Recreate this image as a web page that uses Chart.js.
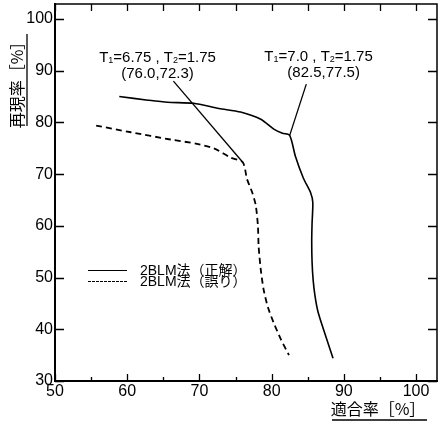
<!DOCTYPE html>
<html>
<head>
<meta charset="utf-8">
<script src="https://cdn.jsdelivr.net/npm/chart.js@4/dist/chart.umd.min.js"></script>
<style>
  html, body { margin: 0; padding: 0; background: #fff; }
  #wrap { width: 438px; height: 424px; }
</style>
</head>
<body>
<div id="wrap"><canvas id="chart" width="438" height="424"></canvas></div>
<script>
// Tick labels
const xTicks = [50, 60, 70, 80, 90, 100];
const yTicks = [30, 40, 50, 60, 70, 80, 90, 100];

// 2BLM法（正解） - solid curve
const correctX = [58.9, 62.9, 65.6, 69.2, 72.7, 75.7, 78.5, 80.3, 81.5, 82.5, 83.3, 84.4, 85.4, 85.7, 85.6, 85.55, 85.6, 85.75, 86.0, 86.4, 87.2, 88.5];
const correctY = [85.0, 84.3, 83.9, 83.7, 82.7, 82.0, 80.6, 78.7, 77.9, 77.5, 73.4, 69.2, 66.4, 64.5, 60.5, 57.0, 53.0, 49.5, 46.5, 43.5, 39.9, 34.4];

// 2BLM法（誤り） - dashed curve
const wrongX = [55.7, 60.5, 66.0, 69.5, 72.0, 74.3, 76.0, 76.6, 77.3, 77.8, 78.1, 78.2, 78.5, 78.9, 79.5, 80.3, 81.3, 82.4];
const wrongY = [79.4, 78.1, 76.7, 75.9, 75.0, 73.2, 72.3, 69.0, 66.5, 64.0, 60.0, 56.0, 51.5, 47.6, 44.2, 41.2, 38.0, 35.0];

const seriesNames = ['2BLM法（正解）', '2BLM法（誤り）'];

// Callout labels (text rows, data positions of text and leader line)
const callouts = [
  { rows: ['T_1=6.75 , T_2=1.75', '(76.0,72.3)'], textX: [64.2, 64.2], textY: [92.8, 89.6], from: [66.4, 88.0], to: [76.0, 72.3] },
  { rows: ['T_1=7.0 , T_2=1.75', '(82.5,77.5)'], textX: [86.5, 87.2], textY: [93.0, 89.9], from: [84.8, 87.4], to: [82.5, 77.5] }
];

const NUM_FONT = "'Liberation Sans', Arial, sans-serif";
const CJK_FONT = "'Liberation Sans', 'Noto Sans CJK JP', sans-serif";

function toPoints(xs, ys) {
    return xs.map((x, i) => ({ x: x, y: ys[i] }));
}

// draw text with "_n" subscripts, centered at cx
function drawRich(ctx, str, cx, cy, size) {
    const parts = [];
    let i = 0, buf = '';
    while (i < str.length) {
        if (str[i] === '_') {
            if (buf) parts.push([buf, false]);
            buf = '';
            parts.push([str[i + 1], true]);
            i += 2;
        } else {
            buf += str[i];
            i++;
        }
    }
    if (buf) parts.push([buf, false]);

    const big = size + 'px ' + NUM_FONT;
    const small = Math.round(size * 0.62) + 'px ' + NUM_FONT;
    let total = 0;
    parts.forEach(p => {
        ctx.font = p[1] ? small : big;
        total += ctx.measureText(p[0]).width;
    });
    let x = cx - total / 2;
    ctx.textAlign = 'left';
    ctx.textBaseline = 'alphabetic';
    const base = cy + size * 0.36;
    parts.forEach(p => {
        ctx.font = p[1] ? small : big;
        ctx.fillText(p[0], x, p[1] ? base + 1 : base);
        x += ctx.measureText(p[0]).width;
    });
}

const decor = {
    id: 'decor',
    afterDraw(chart) {
        const ctx = chart.ctx;
        const xs = chart.scales.x, ys = chart.scales.y;
        const a = chart.chartArea;
        ctx.save();
        ctx.strokeStyle = '#000';
        ctx.fillStyle = '#000';

        // top and right frame
        ctx.lineWidth = 1.5;
        ctx.beginPath();
        ctx.moveTo(a.left, a.top);
        ctx.lineTo(a.right, a.top);
        ctx.lineTo(a.right, a.bottom);
        ctx.stroke();

        // inward ticks
        ctx.lineWidth = 1.3;
        ctx.beginPath();
        for (let v = xTicks[0]; v <= xTicks[xTicks.length - 1]; v += 5) {
            const px = Math.round(xs.getPixelForValue(v)) + 0.5;
            const major = v % 10 === 0;
            ctx.moveTo(px, a.bottom);
            ctx.lineTo(px, a.bottom - (major ? 7 : 4));
            ctx.moveTo(px, a.top);
            ctx.lineTo(px, a.top + 7);
        }
        yTicks.forEach(v => {
            const py = Math.round(ys.getPixelForValue(v)) + 0.5;
            ctx.moveTo(a.left, py);
            ctx.lineTo(a.left + 9, py);
            ctx.moveTo(a.right, py);
            ctx.lineTo(a.right - 9, py);
        });
        ctx.stroke();

        // callouts
        callouts.forEach(c => {
            ctx.lineWidth = 1.3;
            ctx.beginPath();
            ctx.moveTo(xs.getPixelForValue(c.from[0]), ys.getPixelForValue(c.from[1]));
            ctx.lineTo(xs.getPixelForValue(c.to[0]), ys.getPixelForValue(c.to[1]));
            ctx.stroke();
            c.rows.forEach((r, k) => {
                drawRich(ctx, r, xs.getPixelForValue(c.textX[k]), ys.getPixelForValue(c.textY[k]), 15);
            });
        });

        // legend
        ctx.font = '14px ' + CJK_FONT;
        ctx.textAlign = 'left';
        ctx.textBaseline = 'middle';
        seriesNames.forEach((name, k) => {
            const y = 270 + k * 11;
            ctx.lineWidth = 1.1;
            ctx.setLineDash(k === 0 ? [] : [3, 1]);
            ctx.beginPath();
            ctx.moveTo(88, y + 0.5);
            ctx.lineTo(127, y + 0.5);
            ctx.stroke();
            ctx.setLineDash([]);
            ctx.fillText(name, 140, y + 1);
        });

        // axis titles with underline
        ctx.font = "16px 'Noto Sans CJK JP', sans-serif";
        ctx.textAlign = 'center';
        ctx.textBaseline = 'middle';
        ctx.fillText('適合率［%］', 378, 409);
        ctx.lineWidth = 1.3;
        ctx.beginPath();
        ctx.moveTo(332, 420);
        ctx.lineTo(427, 420);
        ctx.stroke();

        ctx.save();
        ctx.translate(17, 81);
        ctx.rotate(-Math.PI / 2);
        ctx.fillText('再現率［%］', 0, 0);
        ctx.restore();
        ctx.beginPath();
        ctx.moveTo(27, 34);
        ctx.lineTo(27, 126);
        ctx.stroke();

        ctx.restore();
    }
};

const ctx = document.getElementById('chart').getContext('2d');
new Chart(ctx, {
    type: 'scatter',
    data: {
        datasets: [{
            label: seriesNames[0],
            data: toPoints(correctX, correctY),
            showLine: true,
            borderColor: '#000',
            borderWidth: 1.6,
            pointRadius: 0,
            tension: 0.25,
            fill: false
        }, {
            label: seriesNames[1],
            data: toPoints(wrongX, wrongY),
            showLine: true,
            borderColor: '#000',
            borderWidth: 1.8,
            borderDash: [6, 4],
            pointRadius: 0,
            tension: 0.25,
            fill: false
        }]
    },
    options: {
        responsive: false,
        devicePixelRatio: 1,
        animation: false,
        events: [],
        layout: { padding: { top: 4, right: 1, left: 0, bottom: 0 } },
        plugins: {
            legend: { display: false },
            tooltip: { enabled: false }
        },
        scales: {
            x: {
                type: 'linear',
                min: 50,
                max: 102.9,
                afterBuildTicks: s => { s.ticks = xTicks.map(v => ({ value: v })); },
                afterFit: s => { s.height = 43; s.paddingLeft = 0; s.paddingRight = 0; },
                grid: { display: false, drawTicks: false },
                border: { display: true, color: '#000', width: 2 },
                ticks: {
                    color: '#000',
                    font: { family: NUM_FONT, size: 16 },
                    padding: 1,
                    maxRotation: 0,
                    autoSkip: false
                }
            },
            y: {
                type: 'linear',
                min: 30,
                max: 102.9,
                afterBuildTicks: s => { s.ticks = yTicks.map(v => ({ value: v })); },
                afterFit: s => { s.width = 55; s.paddingTop = 0; s.paddingBottom = 0; },
                grid: { display: false, drawTicks: false },
                border: { display: true, color: '#000', width: 2 },
                ticks: {
                    color: '#000',
                    font: { family: NUM_FONT, size: 16 },
                    padding: 2,
                    autoSkip: false
                }
            }
        }
    },
    plugins: [decor]
});
</script>
</body>
</html>
